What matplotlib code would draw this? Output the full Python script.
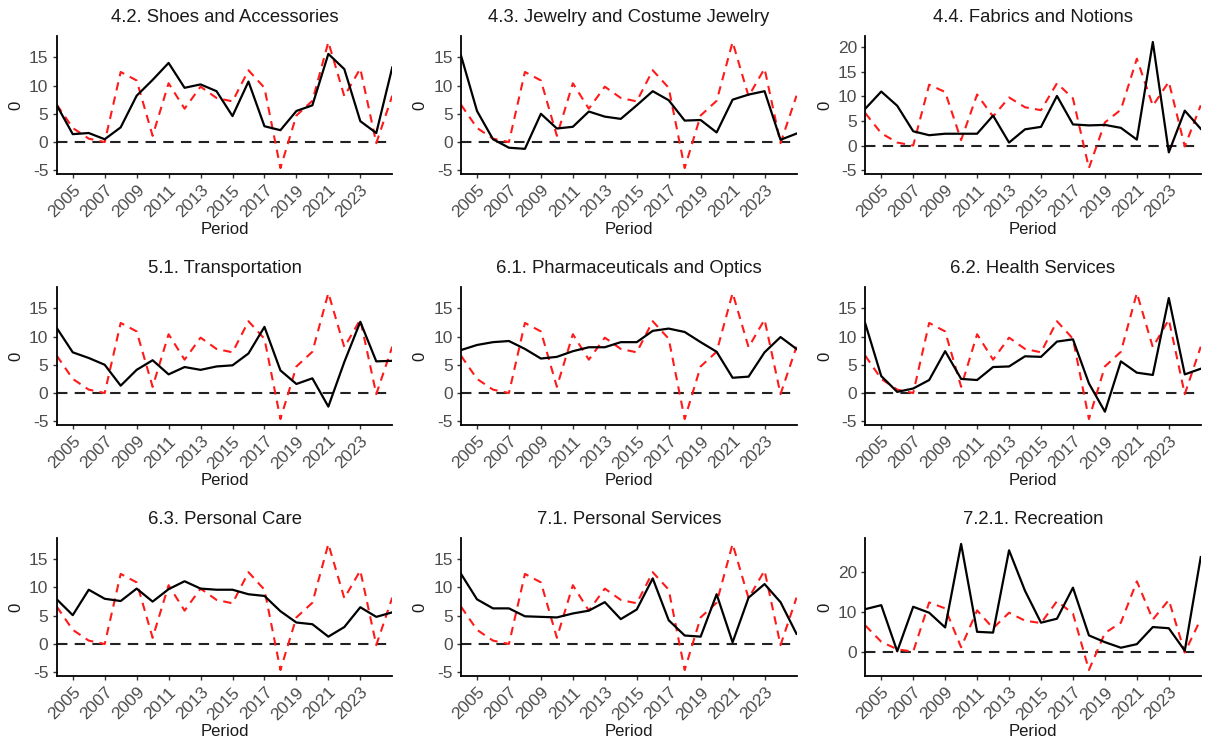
import numpy as np
import matplotlib.pyplot as plt
from matplotlib.ticker import MultipleLocator

plt.rcParams['font.family'] = ['Liberation Sans', 'DejaVu Sans']
plt.rcParams['axes.unicode_minus'] = False

# Annual inflation by item (black) against the headline rate (red dashed)
years = np.arange(2004, 2026)

headline = [6.6, 2.5, 0.6, 0.0, 12.4, 10.9, 1.1, 10.4, 5.9, 9.8, 7.8, 7.2,
            12.7, 9.6, -4.6, 4.7, 7.3, 17.7, 8.1, 13.0, -0.2, 8.2]

titles = [
    "4.2. Shoes and Accessories",
    "4.3. Jewelry and Costume Jewelry",
    "4.4. Fabrics and Notions",
    "5.1. Transportation",
    "6.1. Pharmaceuticals and Optics",
    "6.2. Health Services",
    "6.3. Personal Care",
    "7.1. Personal Services",
    "7.2.1. Recreation",
]

shoes = [6.5, 1.4, 1.6, 0.5, 2.6, 8.2, 11.0, 14.0, 9.6, 10.2, 9.0, 4.6,
         10.7, 2.8, 2.1, 5.5, 6.5, 15.6, 12.9, 3.7, 1.6, 13.2]
jewelry = [15.3, 5.5, 0.5, -1.0, -1.2, 5.0, 2.4, 2.7, 5.4, 4.5, 4.1, 6.5,
           9.0, 7.4, 3.8, 3.9, 1.7, 7.5, 8.4, 9.0, 0.4, 1.5]
fabrics = [7.5, 11.0, 8.1, 2.9, 2.1, 2.4, 2.4, 2.4, 6.1, 0.6, 3.3, 3.8,
           10.1, 4.3, 4.1, 4.2, 3.6, 1.2, 21.1, -1.4, 7.1, 3.4]
transport = [11.5, 7.2, 6.2, 5.0, 1.3, 4.1, 5.8, 3.3, 4.6, 4.1, 4.7, 4.9,
             7.0, 11.7, 4.0, 1.6, 2.6, -2.4, 5.5, 12.6, 5.6, 5.7]
pharma = [7.6, 8.5, 9.0, 9.2, 7.8, 6.1, 6.4, 7.4, 8.1, 8.1, 9.0, 9.0,
          11.0, 11.4, 10.8, 9.0, 7.3, 2.7, 2.9, 7.2, 9.9, 7.8]
health = [12.3, 3.0, 0.2, 0.8, 2.3, 7.4, 2.5, 2.3, 4.6, 4.7, 6.5, 6.4,
          9.1, 9.5, 1.7, -3.3, 5.6, 3.6, 3.2, 16.8, 3.3, 4.3]
personal_care = [7.9, 5.1, 9.6, 8.0, 7.6, 9.8, 7.5, 9.7, 11.1, 9.8, 9.6, 9.6,
                 8.8, 8.5, 5.8, 3.8, 3.5, 1.3, 3.0, 6.5, 4.8, 5.6]
personal_serv = [12.4, 7.9, 6.3, 6.3, 4.9, 4.8, 4.7, 5.4, 5.9, 7.4, 4.4, 6.1,
                 11.6, 4.2, 1.5, 1.3, 8.8, 0.3, 8.2, 10.6, 7.4, 1.8]
recreation = [10.7, 11.7, 0.1, 11.3, 9.8, 6.1, 27.1, 5.0, 4.8, 25.5, 15.3, 7.3,
              8.3, 16.1, 4.1, 2.4, 1.0, 1.9, 6.2, 5.9, 0.25, 23.8]

series = [shoes, jewelry, fabrics, transport, pharma, health,
          personal_care, personal_serv, recreation]

fig, axes = plt.subplots(3, 3, figsize=(12.08, 7.44), dpi=100)
fig.subplots_adjust(left=0.047, right=0.994, top=0.952, bottom=0.091,
                    wspace=0.205, hspace=0.81)

for ax, title, vals in zip(axes.flat, titles, series):
    ax.axhline(0, color="#222222", linestyle=(0, (5, 3.5)), linewidth=1.5, zorder=1)
    ax.plot(years, headline, color="#ff1a1a", linestyle=(0, (4, 3)), linewidth=1.5, zorder=2)
    ax.plot(years, vals, color="black", linewidth=1.6, zorder=3)

    lo = min(min(vals), min(headline))
    hi = max(max(vals), max(headline))
    pad = 0.05 * (hi - lo)
    ax.set_ylim(lo - pad, hi + pad)
    ax.yaxis.set_major_locator(MultipleLocator(10 if hi - lo > 28 else 5))
    ax.set_xlim(2004, 2025)
    ax.set_xticks(np.arange(2005, 2024, 2))
    ax.set_xticklabels([str(y) for y in range(2005, 2024, 2)], rotation=45,
                       ha="right", rotation_mode="anchor")

    ax.set_title(title, fontsize=13.3, color="#1a1a1a", pad=10)
    ax.set_xlabel("Period", fontsize=12, color="#1a1a1a", labelpad=1)
    ax.set_ylabel("0", fontsize=12, color="#1a1a1a", labelpad=4)

    for side in ("top", "right"):
        ax.spines[side].set_visible(False)
    for side in ("left", "bottom"):
        ax.spines[side].set_linewidth(1.3)
    ax.tick_params(axis="both", labelsize=12.5, labelcolor="#4d4d4d",
                   length=3, width=1, color="#333333", pad=3)

fig.savefig("out.png", dpi=100)
